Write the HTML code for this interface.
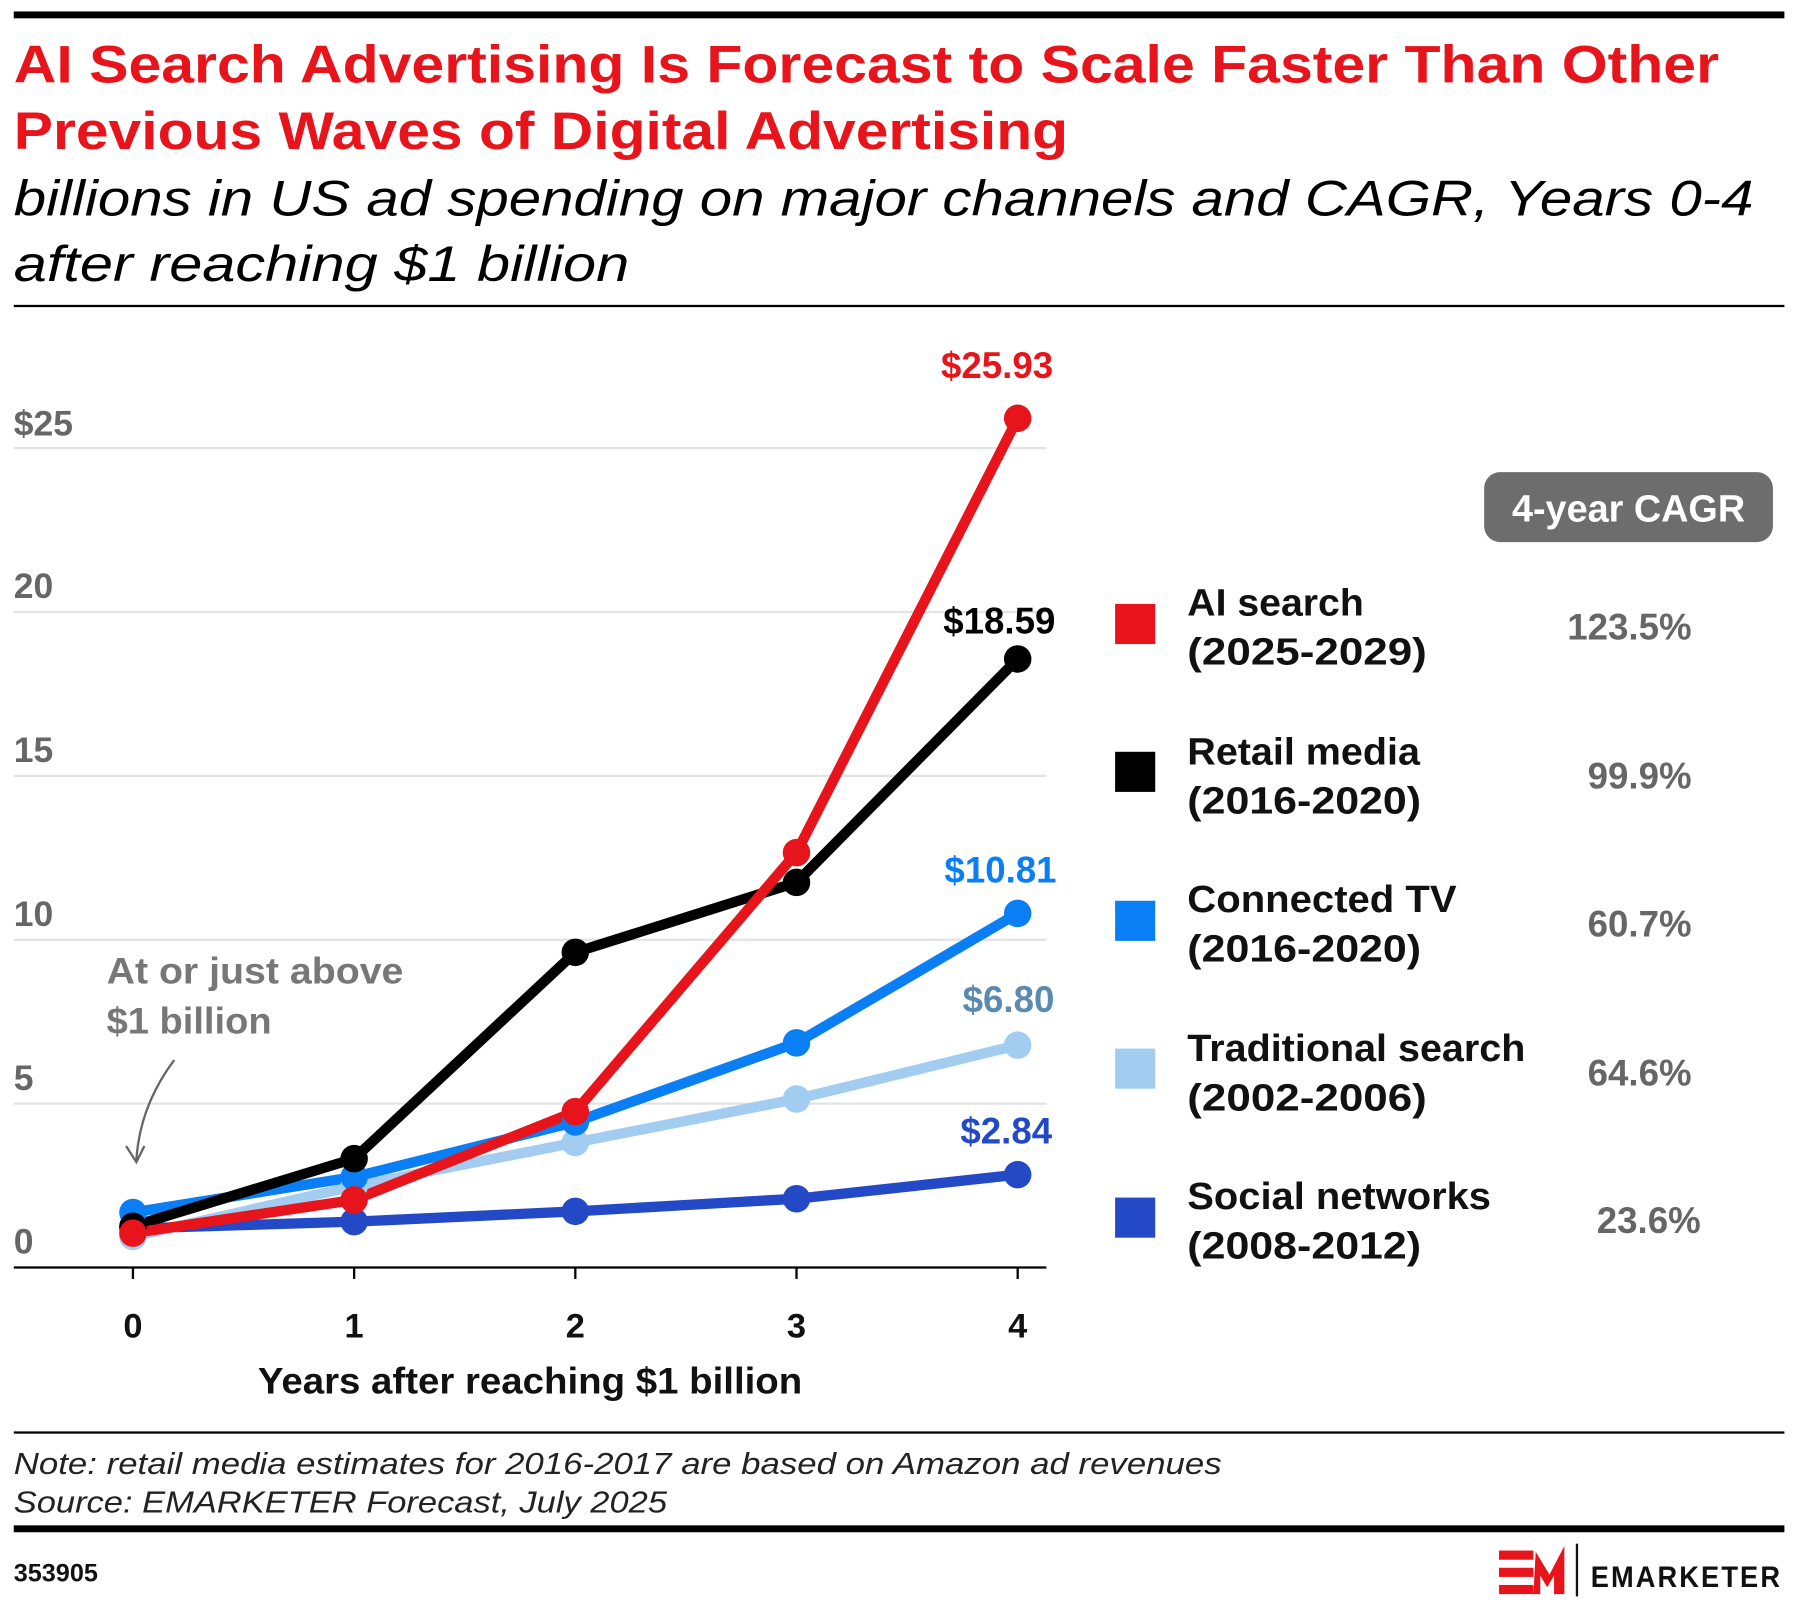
<!DOCTYPE html>
<html><head><meta charset="utf-8"><style>html,body{margin:0;padding:0;background:#fff}svg{display:block}</style></head>
<body>
<svg width="1797" height="1605" viewBox="0 0 1568 1400.5" preserveAspectRatio="none" xmlns="http://www.w3.org/2000/svg" font-family="Liberation Sans, sans-serif">
<rect x="12" y="10" width="1545" height="6" fill="#000"/>
<g fill="#e8141c" font-weight="bold" font-size="46">
<text x="12" y="72" textLength="1488" lengthAdjust="spacingAndGlyphs">AI Search Advertising Is Forecast to Scale Faster Than Other</text>
<text x="12" y="130" textLength="920" lengthAdjust="spacingAndGlyphs">Previous Waves of Digital Advertising</text>
</g>
<g fill="#000" font-style="italic" font-size="44">
<text x="12" y="188" textLength="1518" lengthAdjust="spacingAndGlyphs">billions in US ad spending on major channels and CAGR, Years 0-4</text>
<text x="12" y="245" textLength="537" lengthAdjust="spacingAndGlyphs">after reaching $1 billion</text>
</g>
<rect x="12" y="266" width="1545" height="2" fill="#000"/>
<g stroke="#e3e3e3" stroke-width="2">
<line x1="12" x2="913" y1="391" y2="391"/><line x1="12" x2="913" y1="534" y2="534"/>
<line x1="12" x2="913" y1="677" y2="677"/><line x1="12" x2="913" y1="820" y2="820"/>
<line x1="12" x2="913" y1="963" y2="963"/>
</g>
<line x1="12" x2="913" y1="1106" y2="1106" stroke="#000" stroke-width="2"/>
<g stroke="#000" stroke-width="2"><line x1="116" x2="116" y1="1106" y2="1116"/><line x1="309" x2="309" y1="1106" y2="1116"/><line x1="502" x2="502" y1="1106" y2="1116"/><line x1="695" x2="695" y1="1106" y2="1116"/><line x1="888" x2="888" y1="1106" y2="1116"/></g>
<g fill="#666" font-size="31" font-weight="bold">
<text x="12" y="380">$25</text><text x="12" y="522">20</text><text x="12" y="665">15</text><text x="12" y="808">10</text><text x="12" y="951">5</text><text x="12" y="1094">0</text>
</g>
<g font-size="30" font-weight="bold" text-anchor="middle" fill="#111">
<text x="116" y="1167">0</text><text x="309" y="1167">1</text><text x="502" y="1167">2</text><text x="695" y="1167">3</text><text x="888" y="1167">4</text>
</g>
<text x="225" y="1216" font-size="32" font-weight="bold" fill="#111" textLength="475" lengthAdjust="spacingAndGlyphs">Years after reaching $1 billion</text>
<g fill="#777" font-size="32" font-weight="bold">
<text x="93" y="858" textLength="259" lengthAdjust="spacingAndGlyphs">At or just above</text>
<text x="93" y="902" textLength="144" lengthAdjust="spacingAndGlyphs">$1 billion</text></g>
<path d="M152 925 Q122 965 119 1012" fill="none" stroke="#666" stroke-width="2"/>
<path d="M110 1000 L119 1014 L126 1000" fill="none" stroke="#666" stroke-width="2"/>
<g stroke-width="9" fill="none" stroke-linejoin="round">
<polyline stroke="#2349c6" points="116,1072 309,1066 502,1057 695,1046 888,1025"/>
<polyline stroke="#a3cdf0" points="116,1079 309,1035 502,997 695,959 888,912"/>
<polyline stroke="#0a7ff5" points="116,1058 309,1027 502,979 695,910 888,797"/>
<polyline stroke="#000" points="116,1070 309,1011 502,831 695,770 888,575"/>
<polyline stroke="#e8141c" points="116,1076 309,1047 502,970 695,744 888,365"/>
</g>
<g fill="#2349c6"><circle cx="116" cy="1072" r="12"/><circle cx="309" cy="1066" r="12"/><circle cx="502" cy="1057" r="12"/><circle cx="695" cy="1046" r="12"/><circle cx="888" cy="1025" r="12"/></g>
<g fill="#a3cdf0"><circle cx="116" cy="1079" r="12"/><circle cx="309" cy="1035" r="12"/><circle cx="502" cy="997" r="12"/><circle cx="695" cy="959" r="12"/><circle cx="888" cy="912" r="12"/></g>
<g fill="#0a7ff5"><circle cx="116" cy="1058" r="12"/><circle cx="309" cy="1027" r="12"/><circle cx="502" cy="979" r="12"/><circle cx="695" cy="910" r="12"/><circle cx="888" cy="797" r="12"/></g>
<g fill="#000"><circle cx="116" cy="1070" r="12"/><circle cx="309" cy="1011" r="12"/><circle cx="502" cy="831" r="12"/><circle cx="695" cy="770" r="12"/><circle cx="888" cy="575" r="12"/></g>
<g fill="#e8141c"><circle cx="116" cy="1076" r="12"/><circle cx="309" cy="1047" r="12"/><circle cx="502" cy="970" r="12"/><circle cx="695" cy="744" r="12"/><circle cx="888" cy="365" r="12"/></g>
<g font-size="32" font-weight="bold" text-anchor="middle">
<text x="870" y="330" fill="#e8141c">$25.93</text>
<text x="872" y="553" fill="#000">$18.59</text>
<text x="873" y="770" fill="#0a7ff5">$10.81</text>
<text x="880" y="883" fill="#5a8ab0">$6.80</text>
<text x="878" y="998" fill="#2349c6">$2.84</text>
</g>
<rect x="1295" y="412" width="252" height="61" rx="14" fill="#6d6d6d"/>
<text x="1421" y="455" fill="#fff" font-size="33" font-weight="bold" text-anchor="middle">4-year CAGR</text>
<g font-size="33" font-weight="bold" fill="#111">
<rect x="973" y="527" width="35" height="35" fill="#e8141c"/><text x="1036" y="537" textLength="154" lengthAdjust="spacingAndGlyphs">AI search</text><text x="1036" y="580" textLength="209" lengthAdjust="spacingAndGlyphs">(2025-2029)</text>
<rect x="973" y="656" width="35" height="35" fill="#000"/><text x="1036" y="667" textLength="203" lengthAdjust="spacingAndGlyphs">Retail media</text><text x="1036" y="710" textLength="204" lengthAdjust="spacingAndGlyphs">(2016-2020)</text>
<rect x="973" y="786" width="35" height="35" fill="#0a7ff5"/><text x="1036" y="796" textLength="235" lengthAdjust="spacingAndGlyphs">Connected TV</text><text x="1036" y="839" textLength="204" lengthAdjust="spacingAndGlyphs">(2016-2020)</text>
<rect x="973" y="915" width="35" height="35" fill="#a3cdf0"/><text x="1036" y="926" textLength="295" lengthAdjust="spacingAndGlyphs">Traditional search</text><text x="1036" y="969" textLength="209" lengthAdjust="spacingAndGlyphs">(2002-2006)</text>
<rect x="973" y="1045" width="35" height="35" fill="#2349c6"/><text x="1036" y="1055" textLength="265" lengthAdjust="spacingAndGlyphs">Social networks</text><text x="1036" y="1098" textLength="204" lengthAdjust="spacingAndGlyphs">(2008-2012)</text>
</g>
<g font-size="32" font-weight="bold" fill="#666" text-anchor="end">
<text x="1476" y="558">123.5%</text><text x="1476" y="688">99.9%</text><text x="1476" y="817">60.7%</text><text x="1476" y="947">64.6%</text><text x="1484" y="1076">23.6%</text>
</g>
<rect x="12" y="1249" width="1545" height="2" fill="#000"/>
<g font-style="italic" font-size="27" fill="#222">
<text x="12" y="1286" textLength="1054" lengthAdjust="spacingAndGlyphs">Note: retail media estimates for 2016-2017 are based on Amazon ad revenues</text>
<text x="12" y="1320" textLength="570" lengthAdjust="spacingAndGlyphs">Source: EMARKETER Forecast, July 2025</text>
</g>
<rect x="12" y="1331" width="1545" height="6" fill="#000"/>
<text x="12" y="1380" font-size="22" font-weight="bold" fill="#111">353905</text>
<g fill="#e8141c">
<rect x="1308" y="1353" width="30" height="8"/><rect x="1308" y="1368" width="30" height="8"/><rect x="1308" y="1383" width="30" height="8"/>
<polygon points="1338,1391 1340,1354 1352,1374 1365,1349 1365,1391 1356,1391 1356,1375 1350,1385 1344,1375 1344,1391"/>
</g>
<rect x="1375" y="1347" width="2" height="46" fill="#111"/>
<text x="1388" y="1385" font-size="26" font-weight="bold" fill="#111" letter-spacing="2" textLength="167" lengthAdjust="spacingAndGlyphs">EMARKETER</text>
</svg>
</body></html>
